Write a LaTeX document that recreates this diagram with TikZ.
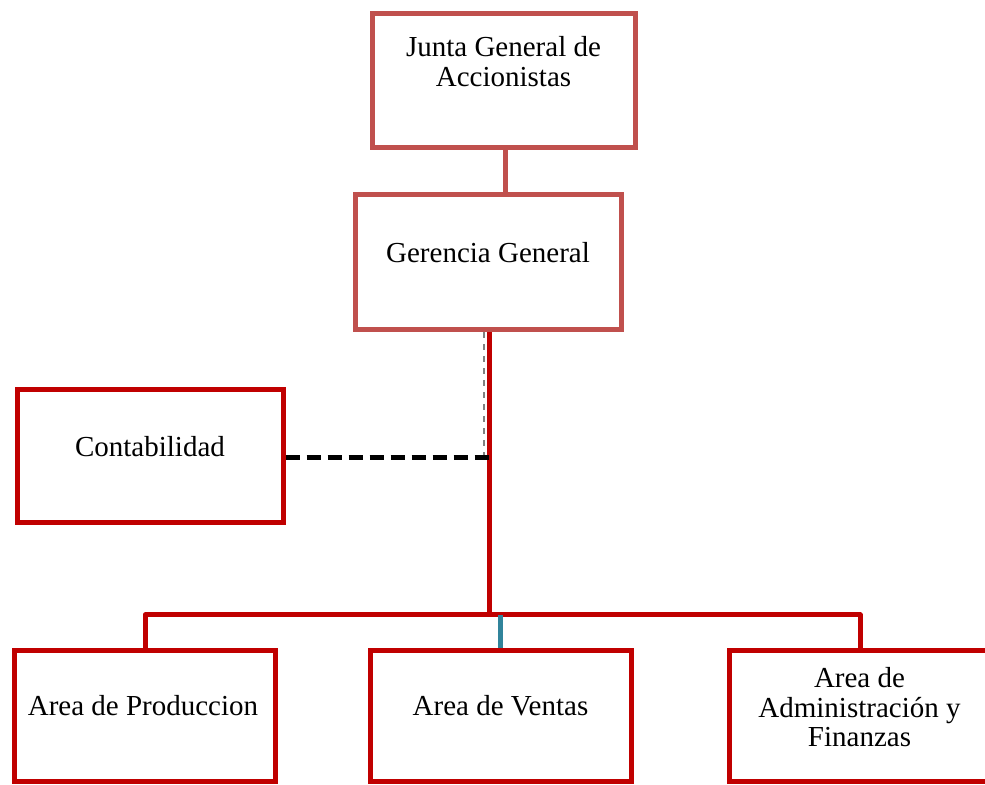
\documentclass[tikz,border=0pt]{standalone}
\usepackage{fontspec}
\setmainfont{Liberation Serif}
\usepackage{tikz}
\usetikzlibrary{positioning}

\definecolor{lightred}{HTML}{C0504D}
\definecolor{darkred}{HTML}{C00000}
\definecolor{tealline}{HTML}{31849B}

\begin{document}
\begin{tikzpicture}[x=0.5pt,y=-0.5pt]
		% Define box and text styles
		\tikzset{box/.style={draw, line width=2.5pt, minimum width=132pt, minimum height=67pt, inner sep=0pt},
			upbox/.style={box, draw=lightred},
			redbox/.style={box, draw=darkred},
			lbl/.style={align=center, font=\fontsize{14.5}{14.75}\selectfont, inner sep=0pt}}
		
		% Fix the canvas
		\useasboundingbox (0,0) rectangle (985,785);
		
		% Draw the top boxes
		\node[upbox, minimum width=131.5pt] (junta) at (503.5,81) {};
		\node[upbox, minimum width=133pt, minimum height=67.5pt] (gerencia) at (488,262.5) {};
		
		% Draw the staff box
		\node[redbox, minimum width=133pt, minimum height=66.5pt] (conta) at (150,456.5) {};
		
		% Draw the bottom boxes
		\node[redbox, minimum width=130.5pt, minimum height=65.5pt] (prod) at (144.5,715.5) {};
		\node[redbox, minimum width=130.5pt, minimum height=65.5pt] (ventas) at (500.5,715.5) {};
		\node[redbox, minimum width=130.5pt, minimum height=65.5pt] (admin) at (859.5,715.5) {};
		
		% Add labels
		\node[lbl] (juntaT) at ([yshift=9.75pt]junta.center) {Junta General de\\Accionistas};
		\node[lbl] (gerenciaT) at ([yshift=4.75pt]gerencia.center) {Gerencia General};
		\node[lbl] (contaT) at ([yshift=4.75pt]conta.center) {Contabilidad};
		\node[lbl] (prodT) at ([xshift=-0.75pt, yshift=4.75pt]prod.center) {Area de Produccion};
		\node[lbl] (ventasT) at ([yshift=4.75pt]ventas.center) {Area de Ventas};
		\node[lbl] (adminT) at ([yshift=4pt]admin.center) {Area de\\Administración y\\Finanzas};
		
		% Draw the connectors
		\coordinate (bus) at (489,615);
		\draw[lightred, line width=2.5pt] ([xshift=0.75pt]junta.south) -- ([xshift=0.75pt]junta.south |- gerencia.north);
		\draw[gray, line width=0.6pt, dashed] ([xshift=-2pt]gerencia.south) -- ([xshift=-2pt]gerencia.south |- conta.east);
		\draw[darkred, line width=2.5pt] ([xshift=0.5pt]gerencia.south) -- ([xshift=0.5pt]gerencia.south |- bus);
		\draw[black, line width=2.5pt, dash pattern=on 7pt off 3.5pt] ([yshift=-0.75pt]conta.east) -- ([yshift=-0.75pt]conta.east -| bus);
		\draw[darkred, line width=2.5pt, line cap=round, line join=round] ([xshift=0.25pt]prod.north) -- ([xshift=0.25pt]prod.north |- bus) -- ([xshift=0.25pt]admin.north |- bus) -- ([xshift=0.25pt]admin.north);
		\draw[tealline, line width=2.5pt] (ventas.north) -- (ventas.north |- bus);
	\end{tikzpicture}
\end{document}
